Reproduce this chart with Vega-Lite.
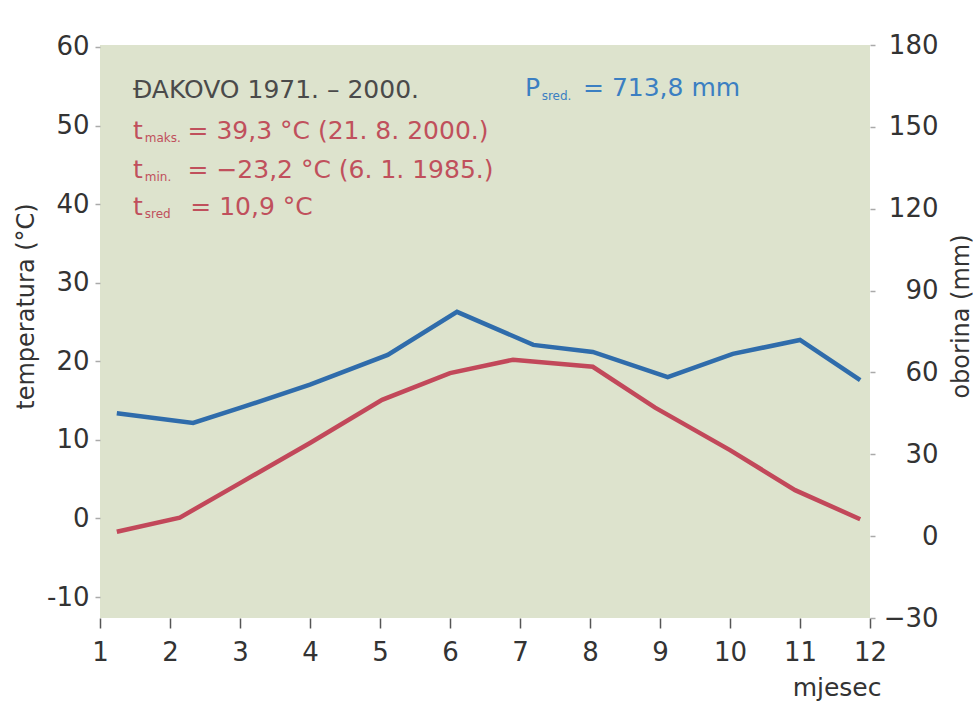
{
  "$schema": "https://vega.github.io/schema/vega-lite/v6.json",
  "width": 770,
  "height": 573,
  "autosize": "none",
  "padding": {"left": 100, "top": 45, "right": 103, "bottom": 88},
  "background": "white",
  "config": {
    "font": "DejaVu Sans",
    "view": {"fill": "#dde3cd", "stroke": null},
    "axis": {"labelFont": "DejaVu Sans", "titleFont": "DejaVu Sans", "grid": false, "domain": false}
  },
  "datasets": {
    "temp": [
      {"mjesec": 1.24, "temperatura": -1.7},
      {"mjesec": 2.14, "temperatura": 0.1},
      {"mjesec": 3.0, "temperatura": 4.5},
      {"mjesec": 4.0, "temperatura": 9.6},
      {"mjesec": 5.03, "temperatura": 15.1},
      {"mjesec": 6.0, "temperatura": 18.5},
      {"mjesec": 6.9, "temperatura": 20.2},
      {"mjesec": 8.04, "temperatura": 19.3},
      {"mjesec": 8.93, "temperatura": 14.1},
      {"mjesec": 10.0, "temperatura": 8.7},
      {"mjesec": 10.93, "temperatura": 3.6},
      {"mjesec": 11.86, "temperatura": -0.1}
    ],
    "oborina": [
      {"mjesec": 1.24, "oborina": 45.0},
      {"mjesec": 2.33, "oborina": 41.5},
      {"mjesec": 3.0, "oborina": 47.0},
      {"mjesec": 4.0, "oborina": 55.5},
      {"mjesec": 5.11, "oborina": 66.4},
      {"mjesec": 6.1, "oborina": 82.2},
      {"mjesec": 7.19, "oborina": 70.1},
      {"mjesec": 8.04, "oborina": 67.5},
      {"mjesec": 9.11, "oborina": 58.3},
      {"mjesec": 10.04, "oborina": 66.8},
      {"mjesec": 11.0, "oborina": 71.9},
      {"mjesec": 11.86, "oborina": 57.2}
    ],
    "natpisi": [
      {"mjesec": 1.47, "temperatura": 53.5, "tekst": "ĐAKOVO 1971. – 2000.", "skupina": "naslov"},
      {"mjesec": 1.47, "temperatura": 48.3, "tekst": "t", "skupina": "t"},
      {"mjesec": 2.25, "temperatura": 48.3, "tekst": "= 39,3 °C (21. 8. 2000.)", "skupina": "t"},
      {"mjesec": 1.47, "temperatura": 43.3, "tekst": "t", "skupina": "t"},
      {"mjesec": 2.25, "temperatura": 43.3, "tekst": "= −23,2 °C (6. 1. 1985.)", "skupina": "t"},
      {"mjesec": 1.47, "temperatura": 38.6, "tekst": "t", "skupina": "t"},
      {"mjesec": 2.29, "temperatura": 38.6, "tekst": "= 10,9 °C", "skupina": "t"},
      {"mjesec": 7.07, "temperatura": 53.7, "tekst": "P", "skupina": "p"},
      {"mjesec": 7.9, "temperatura": 53.7, "tekst": "= 713,8 mm", "skupina": "p"}
    ],
    "indeksi": [
      {"mjesec": 1.64, "temperatura": 47.9, "tekst": "maks.", "skupina": "t"},
      {"mjesec": 1.64, "temperatura": 42.9, "tekst": "min.", "skupina": "t"},
      {"mjesec": 1.64, "temperatura": 38.2, "tekst": "sred", "skupina": "t"},
      {"mjesec": 7.31, "temperatura": 53.3, "tekst": "sred.", "skupina": "p"}
    ]
  },
  "layer": [
    {
      "layer": [
        {
          "data": {"name": "temp"},
          "mark": {"type": "line", "color": "#c2485a", "strokeWidth": 4.5},
          "encoding": {
            "x": {
              "field": "mjesec", "type": "quantitative",
              "scale": {"domain": [1, 12], "nice": false, "zero": false},
              "axis": {
                "values": [1, 2, 3, 4, 5, 6, 7, 8, 9, 10, 11, 12],
                "format": "d",
                "tickColor": "#555", "tickSize": 10, "tickWidth": 1.5,
                "labelFontSize": 26, "labelColor": "#333", "labelBaseline": "alphabetic",
                "labelPadding": 32, "labelFlush": false, "labelOverlap": false,
                "title": "mjesec", "titleFontSize": 25, "titleFontWeight": "normal", "titleColor": "#333",
                "titleX": 781, "titleY": 77, "titleAlign": "right", "titleBaseline": "alphabetic"
              }
            },
            "y": {
              "field": "temperatura", "type": "quantitative",
              "scale": {"domain": [-12.67, 60.25], "nice": false, "zero": false},
              "axis": {
                "orient": "left",
                "values": [-10, 0, 10, 20, 30, 40, 50, 60],
                "labelExpr": "'' + datum.value",
                "tickColor": "#aaa", "tickSize": 5, "tickWidth": 1.5,
                "labelFontSize": 26, "labelColor": "#333", "labelPadding": 6, "labelOverlap": false,
                "title": "temperatura (°C)", "titleFontSize": 24, "titleFontWeight": "normal", "titleColor": "#333",
                "titleX": -74, "titleY": 261, "titleAngle": 270, "titleAlign": "center", "titleBaseline": "middle"
              }
            }
          }
        },
        {
          "data": {"name": "natpisi"},
          "mark": {"type": "text", "fontSize": 25, "align": "left", "baseline": "alphabetic"},
          "encoding": {
            "x": {"field": "mjesec", "type": "quantitative", "scale": {"domain": [1, 12], "nice": false, "zero": false}},
            "y": {"field": "temperatura", "type": "quantitative", "scale": {"domain": [-12.67, 60.25], "nice": false, "zero": false}},
            "text": {"field": "tekst"},
            "color": {"field": "skupina", "type": "nominal", "scale": {"domain": ["naslov", "t", "p"], "range": ["#4a4a4a", "#c0505c", "#3b7fc2"]}, "legend": null}
          }
        },
        {
          "data": {"name": "indeksi"},
          "mark": {"type": "text", "fontSize": 12, "align": "left", "baseline": "alphabetic"},
          "encoding": {
            "x": {"field": "mjesec", "type": "quantitative", "scale": {"domain": [1, 12], "nice": false, "zero": false}},
            "y": {"field": "temperatura", "type": "quantitative", "scale": {"domain": [-12.67, 60.25], "nice": false, "zero": false}},
            "text": {"field": "tekst"},
            "color": {"field": "skupina", "type": "nominal", "scale": {"domain": ["naslov", "t", "p"], "range": ["#4a4a4a", "#c0505c", "#3b7fc2"]}, "legend": null}
          }
        }
      ]
    },
    {
      "data": {"name": "oborina"},
      "mark": {"type": "line", "color": "#2f6cab", "strokeWidth": 4.5},
      "encoding": {
        "x": {"field": "mjesec", "type": "quantitative", "scale": {"domain": [1, 12], "nice": false, "zero": false}},
        "y": {
          "field": "oborina", "type": "quantitative",
          "scale": {"domain": [-30, 180], "nice": false, "zero": false},
          "axis": {
            "orient": "right",
            "values": [-30, 0, 30, 60, 90, 120, 150, 180],
            "tickColor": "#aaa", "tickSize": 5, "tickWidth": 1.5,
            "labelFontSize": 26, "labelColor": "#333", "labelAlign": "right", "labelPadding": 63, "labelOverlap": false,
            "title": "oborina (mm)", "titleFontSize": 24, "titleFontWeight": "normal", "titleColor": "#333",
            "titleX": 91, "titleY": 271, "titleAngle": 270, "titleAlign": "center", "titleBaseline": "middle"
          }
        }
      }
    }
  ],
  "resolve": {"scale": {"y": "independent"}}
}
